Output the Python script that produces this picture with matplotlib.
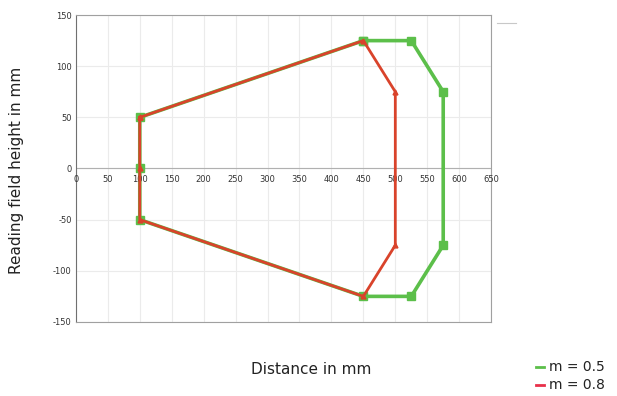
import matplotlib.pyplot as plt
from matplotlib.lines import Line2D

plt.rcParams['axes.unicode_minus'] = False

# m = 0.5 (green) outline
green_x = [450, 525, 575, 575, 525, 450, 100, 100, 100, 450]
green_y = [125, 125, 75, -75, -125, -125, -50, 0, 50, 125]
# m = 0.8 (red) outline
red_x = [100, 450, 500, 500, 450, 100, 100, 100]
red_y = [50, 125, 75, -75, -125, -50, 0, 50]

xticks = list(range(0, 651, 50))
yticks = [-150, -100, -50, 0, 50, 100, 150]

green = '#5cbf4a'
red = '#d9432b'

fig = plt.figure(figsize=(6.17, 3.96), dpi=100)
ax = fig.add_axes([0.123, 0.187, 0.673, 0.775])

ax.plot(green_x, green_y, color=green, linewidth=2.6, marker='s', markersize=6,
        zorder=3)
ax.plot(red_x, red_y, color=red, linewidth=2.0, marker='^', markersize=3.5,
        zorder=4)

ax.set_xlim(0, 650)
ax.set_ylim(-150, 150)
ax.set_xticks(xticks)
ax.set_yticks(yticks)
ax.grid(True, color='#ebebeb', linewidth=0.8)
ax.set_axisbelow(True)

for s in ['top', 'right', 'bottom']:
    ax.spines[s].set_color('#a0a0a0')
ax.spines['left'].set_color('#707070')
ax.spines['left'].set_position(('data', 0))
ax.axhline(0, color='#b0b0b0', linewidth=0.8, zorder=1)

ax.tick_params(axis='both', labelsize=6, length=0, colors='#333333', pad=3)
ax.xaxis.set_tick_params(labelbottom=False)
for x in xticks:
    ax.text(x, -6, str(x), ha='center', va='top', fontsize=6, color='#333333')

fig.text(0.027, 0.57, 'Reading field height in mm', rotation=90,
         ha='center', va='center', fontsize=11, color='#222222')
fig.text(0.505, 0.067, 'Distance in mm', ha='center', va='center',
         fontsize=11, color='#222222')

# legend
fig.add_artist(Line2D([0.869, 0.882], [0.072, 0.072], color=green, linewidth=2))
fig.text(0.89, 0.072, 'm = 0.5', color='#222222', fontsize=10, ha='left', va='center')
fig.add_artist(Line2D([0.869, 0.882], [0.027, 0.027], color='#e8304a', linewidth=2))
fig.text(0.89, 0.027, 'm = 0.8', color='#222222', fontsize=10, ha='left', va='center')

# small stray rule at top right of the plot frame
fig.add_artist(Line2D([0.806, 0.836], [0.943, 0.943], color='#c8c8c8', linewidth=0.8))

fig.savefig('out.png', dpi=100)
